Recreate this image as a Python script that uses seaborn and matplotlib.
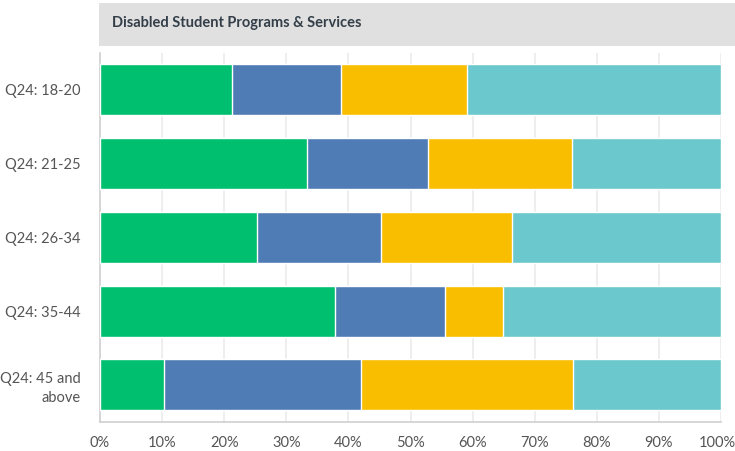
import pandas as pd
import matplotlib.pyplot as plt
import matplotlib.transforms as mtransforms
import seaborn as sns
from matplotlib.patches import Rectangle
from matplotlib.ticker import PercentFormatter

# Data (percent of respondents per answer)
categories = ["Q24: 18-20", "Q24: 21-25", "Q24: 26-34", "Q24: 35-44", "Q24: 45 and\nabove"]
series_names = ["A", "B", "C", "D"]
green = [21.2, 33.4, 25.3, 37.9, 10.3]
blue = [17.6, 19.4, 19.9, 17.6, 31.7]
yellow = [20.3, 23.2, 21.1, 9.4, 34.1]
teal = [40.9, 24.0, 33.7, 35.1, 23.9]
colors = ["#00BF6F", "#507CB6", "#F9BE00", "#6BC8CD"]
title = "Disabled Student Programs & Services"

sns.set_style("white")
plt.rcParams["font.family"] = ["Lato", "DejaVu Sans"]

df = pd.DataFrame({"cat": categories, "A": green, "B": blue, "C": yellow, "D": teal})
# cumulative sums so overlapping bars give a stacked look
cum = df[series_names].cumsum(axis=1)

fig = plt.figure(figsize=(7.35, 4.51), dpi=100)
ax = fig.add_axes([100 / 735, 1 - 421.7 / 451, 621 / 735, (421.7 - 53) / 451])

for name, col in reversed(list(zip(series_names, colors))):
    sns.barplot(x=cum[name], y=df["cat"], orient="h", color=col, width=0.69,
                saturation=1, ax=ax, zorder=3)

ax.set_xlim(0, 100)
ax.set_ylim(4.5, -0.5)
ax.set_xticks(range(0, 101, 10))
ax.xaxis.set_major_formatter(PercentFormatter(decimals=0))
ax.grid(axis="x", color="#ebebeb", linewidth=1.2, zorder=0)
ax.set_xlabel("")
ax.set_ylabel("")
for s in ["top", "right"]:
    ax.spines[s].set_visible(False)
for s in ["left", "bottom"]:
    ax.spines[s].set_color("#d0d0d0")
    ax.spines[s].set_linewidth(1.2)
ax.tick_params(axis="both", length=0, labelsize=10.5, labelcolor="#555555")
ax.tick_params(axis="y", pad=14)
ax.tick_params(axis="x", pad=10)
for lbl in ax.get_yticklabels():
    lbl.set_horizontalalignment("right")
    lbl.set_multialignment("right")
    lbl.set_linespacing(1.45)

# keep the "100%" label inside the figure
fig.canvas.draw()
last = ax.get_xticklabels()[-1]
last.set_transform(last.get_transform() +
                   mtransforms.ScaledTranslation(-3 / 72, 0, fig.dpi_scale_trans))

# title box
fig.patches.append(Rectangle((99 / 735, 1 - 46 / 451), 636 / 735, 43 / 451,
                             transform=fig.transFigure, facecolor="#e0e0e0",
                             edgecolor="none", zorder=0))
fig.text(112 / 735, 1 - 23 / 451, title, fontsize=10.5, fontweight="bold",
         color="#333e48", va="center", ha="left")

fig.savefig("out.png", dpi=100)
